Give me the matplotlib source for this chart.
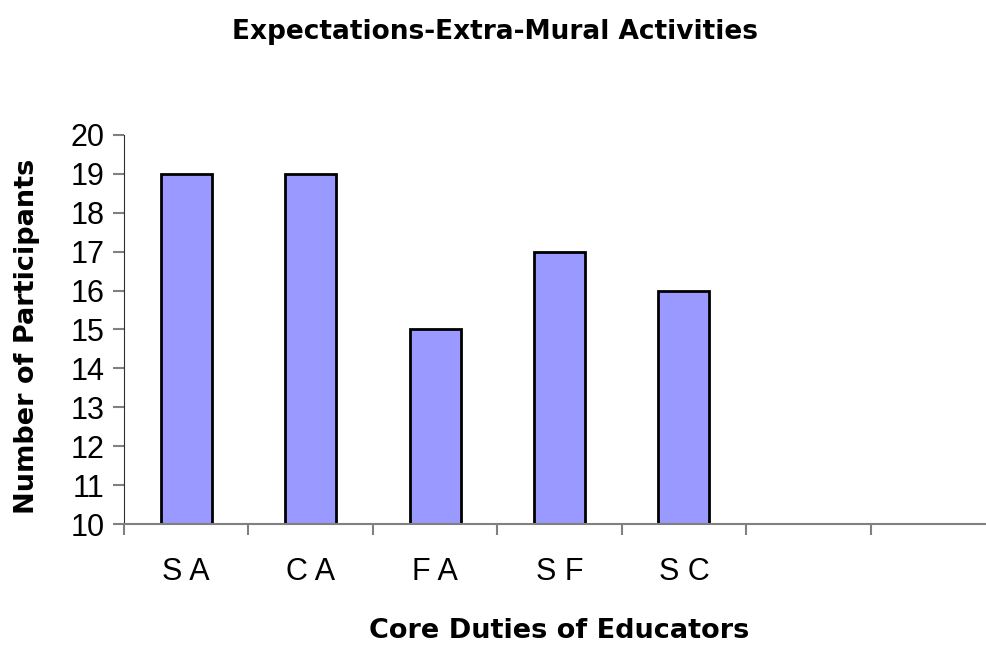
import matplotlib

matplotlib.use("Agg")

import matplotlib.pyplot as plt
import numpy as np

categories = ["S A", "C A", "F A", "S F", "S C", "", ""]
values = [19, 19, 15, 17, 16]
y_ticks = list(range(10, 21))

plt.rcParams["font.family"] = ["Liberation Sans", "DejaVu Sans"]

fig = plt.figure(figsize=(9.86, 6.45), dpi=100)
ax = fig.add_axes([124 / 986, 1 - 524 / 645, 871 / 986, 389 / 645])

x = np.arange(len(values))
ax.bar(x, values, width=0.41, color="#9999FF", edgecolor="black", linewidth=2)

ax.set_xlim(-0.5, len(categories) - 0.5)
ax.set_ylim(10, 20)
ax.set_yticks(y_ticks)
ax.set_yticklabels([str(t) for t in y_ticks], fontsize=22)

ax.set_xticks(np.arange(len(categories)))
ax.set_xticklabels(categories, fontsize=22)
ax.tick_params(axis="x", length=0, pad=24)
ax.set_xticks(np.arange(len(categories) + 1) - 0.5, minor=True)
ax.tick_params(axis="x", which="minor", length=8, color="#808080", width=1.5)
ax.tick_params(axis="y", length=8, color="#808080", width=1.5, pad=6)

for side in ["top", "right"]:
    ax.spines[side].set_visible(False)
ax.spines["left"].set_color("#303030")
ax.spines["bottom"].set_color("#808080")
ax.spines["bottom"].set_linewidth(1.5)

bold = {"family": "DejaVu Sans", "weight": "bold"}
ax.set_ylabel("Number of Participants", fontsize=19.5, **bold, va="center")
ax.yaxis.set_label_coords(-0.111, 0.483)
ax.set_xlabel("Core Duties of Educators", fontsize=19.5, **bold, va="center")
ax.xaxis.set_label_coords(0.5, -0.275)
fig.text(495 / 986, 1 - 32 / 645, "Expectations-Extra-Mural Activities",
         ha="center", va="center", fontsize=19, **bold)

fig.savefig("out.png", dpi=100)
plt.close(fig)
